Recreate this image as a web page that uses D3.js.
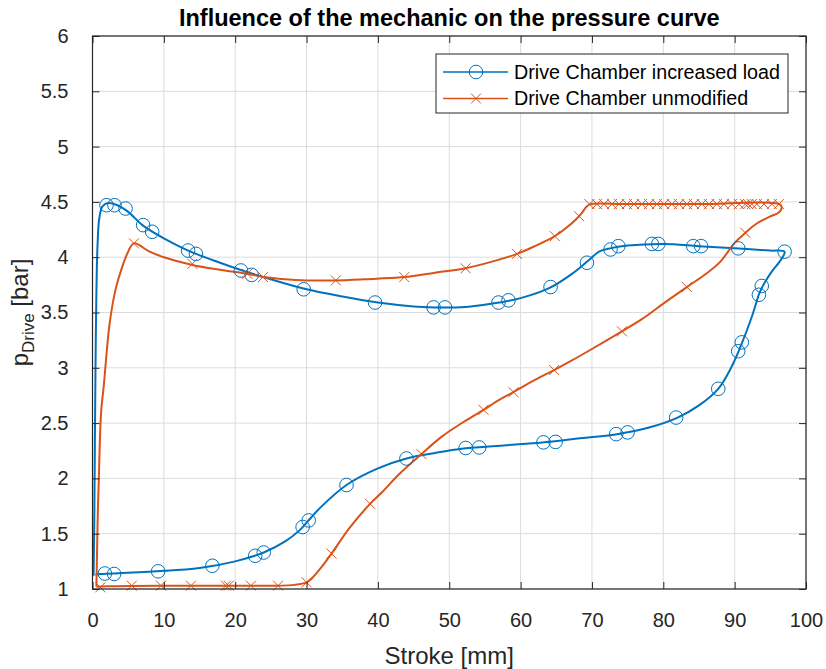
<!DOCTYPE html>
<html><head><meta charset="utf-8">
<script src="https://cdn.jsdelivr.net/npm/d3@7"></script>
<style>body{margin:0;background:#fff}text{font-family:"Liberation Sans",Arial,Helvetica,sans-serif}</style>
</head><body>
<svg id="c" width="826" height="669"></svg>
<script>
// ---- data (Stroke [mm], p [bar]) ----
const blueLine = [
 [0.15,1.12],[0.25,1.6],[0.33,2.3],[0.42,3.0],[0.55,3.7],[0.7,4.1],[0.95,4.35],[1.4,4.46],[2.2,4.49],[3.5,4.47],
 [5,4.41],[7,4.29],[10,4.17],[13.4,4.06],[17,3.97],[21,3.88],[25,3.8],[30,3.71],[35,3.645],[40,3.59],
 [45,3.555],[48,3.546],[50,3.545],[53,3.555],[57,3.59],[60,3.63],[64,3.72],[67,3.84],[69.5,3.97],[71,4.05],
 [72.5,4.08],[75,4.105],[80,4.12],[85,4.1],[90,4.08],[95,4.06],[97,4.05],
 [96.3,3.96],[95.2,3.87],[94.3,3.78],[93.5,3.68],[92.5,3.48],[91,3.22],[89.5,3.0],[87.7,2.81],[85,2.66],
 [82,2.55],[78,2.46],[73.5,2.40],[68,2.36],[63,2.325],[58,2.30],[52,2.27],[48,2.23],[44,2.18],[40,2.09],
 [35.6,1.94],[32,1.74],[30,1.6],[29,1.53],[27,1.43],[24,1.33],[20,1.25],[15,1.19],[9,1.16],[3,1.14],[1,1.135],[0.4,1.13]
];
const blueMarkers = [
 [1.96,4.47],[3.08,4.47],[4.63,4.44],[7.1,4.29],[8.36,4.23],[13.4,4.06],[14.5,4.03],[20.8,3.88],[22.3,3.84],
 [29.6,3.71],[39.6,3.59],[47.8,3.546],[49.4,3.546],[56.9,3.59],[58.3,3.61],[64.2,3.73],[69.3,3.95],[72.6,4.07],
 [73.7,4.10],[78.4,4.12],[79.3,4.12],[84.2,4.10],[85.3,4.10],[90.5,4.08],[97.0,4.05],
 [93.8,3.74],[93.4,3.66],[91.0,3.23],[90.5,3.15],[87.7,2.81],[81.8,2.55],[75.0,2.416],[73.4,2.40],[64.9,2.33],
 [63.2,2.326],[54.2,2.28],[52.3,2.275],[44.0,2.18],[35.6,1.94],[30.3,1.62],[29.45,1.56],[24.0,1.33],[22.8,1.30],
 [16.8,1.21],[9.2,1.16],[3.03,1.136],[1.73,1.14]
];
const orangeLine = [
 [0.55,1.02],[0.6,1.2],[0.65,1.38],[0.75,1.7],[0.88,1.98],[1.2,2.59],[1.6,2.85],[2.0,3.15],[2.4,3.4],[3.2,3.70],
 [4.15,3.91],[5.0,4.05],[5.8,4.125],[8,4.05],[10,4.0],[14,3.93],[18,3.885],[21.7,3.85],[24,3.82],[27,3.80],
 [30,3.79],[34,3.79],[38,3.80],[43.7,3.82],[48,3.86],[52.3,3.90],[56,3.96],[59.5,4.03],[62,4.10],[64.8,4.19],
 [66.5,4.27],[68.2,4.37],[69.3,4.46],[69.8,4.48],[75,4.48],[85,4.48],[96.3,4.48],[96.6,4.45],[96.1,4.40],
 [95,4.37],[93,4.30],[91.5,4.22],[90,4.13],[88,3.96],[86,3.85],[83.3,3.73],[80,3.58],[77,3.44],[74.2,3.33],
 [70,3.17],[67,3.06],[64.7,2.98],[62,2.89],[59,2.78],[57,2.71],[54.8,2.62],[52,2.51],[49,2.38],[46.1,2.22],
 [43,2.04],[40.5,1.87],[38.9,1.77],[36,1.55],[33.5,1.32],[32,1.19],[30.8,1.10],[30,1.06],[28,1.035],[20,1.03],
 [10,1.03],[2,1.025],[0.55,1.02]
];
const orangeMarkers = [
 [1.1,1.015],[5.5,1.03],[9.6,1.03],[13.8,1.03],[18.7,1.03],[19.1,1.03],[22.2,1.03],[26.0,1.03],[30.0,1.06],
 [33.5,1.32],[38.9,1.77],[46.1,2.22],[54.8,2.62],[59.0,2.78],[64.7,2.98],[74.2,3.33],[83.3,3.73],[91.5,4.22],
 [69.65,4.48],[70.7,4.48],[71.7,4.48],[72.8,4.48],[73.8,4.48],[74.9,4.48],[75.9,4.48],[77.0,4.48],[78.0,4.48],
 [79.1,4.48],[80.1,4.48],[81.2,4.48],[82.2,4.48],[83.3,4.48],[84.3,4.48],[85.4,4.48],[86.4,4.48],[87.5,4.48],
 [88.5,4.48],[89.6,4.48],[90.6,4.48],[91.5,4.48],[91.9,4.48],[92.4,4.48],[93.1,4.48],[94.1,4.48],[95.2,4.48],[96.2,4.48],
 [5.8,4.125],[14.0,3.94],[21.7,3.85],[23.9,3.82],[34.1,3.79],[43.7,3.82],[52.3,3.90],[59.5,4.03],[64.8,4.19],[68.2,4.37]
];
const xTicks = [0,10,20,30,40,50,60,70,80,90,100];
const yTicks = [1,1.5,2,2.5,3,3.5,4,4.5,5,5.5,6];
const seriesNames = ["Drive Chamber increased load","Drive Chamber unmodified"];
const colors = ["#0072BD","#D95319"];

// ---- layout ----
const svg = d3.select("#c");
const L = 92.5, R = 806, T = 36, B = 589;
const x = d3.scaleLinear().domain([0,100]).range([L,R]);
const y = d3.scaleLinear().domain([1,6]).range([B,T]);
const axisCol = "#262626";

// grid
const g = svg.append("g");
g.selectAll(".vg").data(xTicks).enter().append("line")
 .attr("x1",d=>x(d)).attr("x2",d=>x(d)).attr("y1",T).attr("y2",B)
 .attr("stroke","#dcdcdc").attr("stroke-width",1);
g.selectAll(".hg").data(yTicks).enter().append("line")
 .attr("y1",d=>y(d)).attr("y2",d=>y(d)).attr("x1",L).attr("x2",R)
 .attr("stroke","#dcdcdc").attr("stroke-width",1);

// lines
const line = d3.line().x(d=>x(d[0])).y(d=>y(d[1])).curve(d3.curveCatmullRom.alpha(0.5));
svg.append("path").datum(blueLine).attr("d",line).attr("fill","none")
 .attr("stroke",colors[0]).attr("stroke-width",2);
svg.append("path").datum(orangeLine).attr("d",line).attr("fill","none")
 .attr("stroke",colors[1]).attr("stroke-width",2);

// markers
svg.append("g").selectAll("circle").data(blueMarkers).enter().append("circle")
 .attr("cx",d=>x(d[0])).attr("cy",d=>y(d[1])).attr("r",6.8)
 .attr("fill","none").attr("stroke",colors[0]).attr("stroke-width",1);
svg.append("g").selectAll("path").data(orangeMarkers).enter().append("path")
 .attr("transform",d=>`translate(${x(d[0])},${y(d[1])})`)
 .attr("d","M-5,-5L5,5M-5,5L5,-5").attr("fill","none")
 .attr("stroke",colors[1]).attr("stroke-width",1);

// axes (ticks inside, all 4 sides)
const fs = 20;
svg.append("g").attr("transform",`translate(0,${B})`)
 .call(d3.axisBottom(x).tickValues(xTicks).tickSizeInner(-7).tickSizeOuter(0).tickPadding(24).tickFormat(d3.format("d")));
svg.append("g").attr("transform",`translate(${L},0)`)
 .call(d3.axisLeft(y).tickValues(yTicks).tickSizeInner(-7).tickSizeOuter(0).tickPadding(24).tickFormat(d=>String(d)));
svg.append("g").attr("transform",`translate(0,${T})`)
 .call(d3.axisTop(x).tickValues(xTicks).tickSizeInner(-7).tickSizeOuter(0).tickFormat(""));
svg.append("g").attr("transform",`translate(${R},0)`)
 .call(d3.axisRight(y).tickValues(yTicks).tickSizeInner(-7).tickSizeOuter(0).tickFormat(""));
svg.selectAll(".domain").remove();
svg.selectAll(".tick line").attr("stroke",axisCol).attr("stroke-width",1);
svg.selectAll(".tick text").attr("fill",axisCol).style("font-size",fs+"px").style("font-family",'"Liberation Sans",Arial,sans-serif');
svg.append("rect").attr("x",L).attr("y",T).attr("width",R-L).attr("height",B-T)
 .attr("fill","none").attr("stroke",axisCol).attr("stroke-width",1.2);

// title
svg.append("text").attr("x",(L+R)/2).attr("y",26).attr("text-anchor","middle")
 .style("font-size","23.5px").style("font-weight","bold").attr("fill","#000")
 .text("Influence of the mechanic on the pressure curve");

// x label
svg.append("text").attr("x",(L+R)/2).attr("y",664).attr("text-anchor","middle")
 .style("font-size","24px").attr("fill",axisCol).text("Stroke [mm]");
// y label
const yl = svg.append("text").attr("transform",`translate(28,${(T+B)/2}) rotate(-90)`)
 .attr("text-anchor","middle").style("font-size","24px").attr("fill",axisCol);
yl.append("tspan").text("p");
yl.append("tspan").attr("dy",6).style("font-size","17px").text("Drive");
yl.append("tspan").attr("dy",-6).text(" [bar]");

// legend
const lg = svg.append("g");
lg.append("rect").attr("x",436).attr("y",54).attr("width",352).attr("height",59)
 .attr("fill","#fff").attr("stroke",axisCol).attr("stroke-width",1);
seriesNames.forEach((n,i)=>{
 const yy = 72 + i*26.5;
 lg.append("line").attr("x1",443).attr("x2",508).attr("y1",yy).attr("y2",yy)
  .attr("stroke",colors[i]).attr("stroke-width",1.3);
 if(i===0) lg.append("circle").attr("cx",476).attr("cy",yy).attr("r",6.8)
  .attr("fill","none").attr("stroke",colors[0]).attr("stroke-width",1);
 else lg.append("path").attr("transform",`translate(476,${yy})`).attr("d","M-5,-5L5,5M-5,5L5,-5")
  .attr("fill","none").attr("stroke",colors[1]).attr("stroke-width",1);
 lg.append("text").attr("x",514).attr("y",yy).attr("dy","0.35em")
  .style("font-size","19.7px").attr("fill","#000").text(n);
});
</script>
</body></html>
